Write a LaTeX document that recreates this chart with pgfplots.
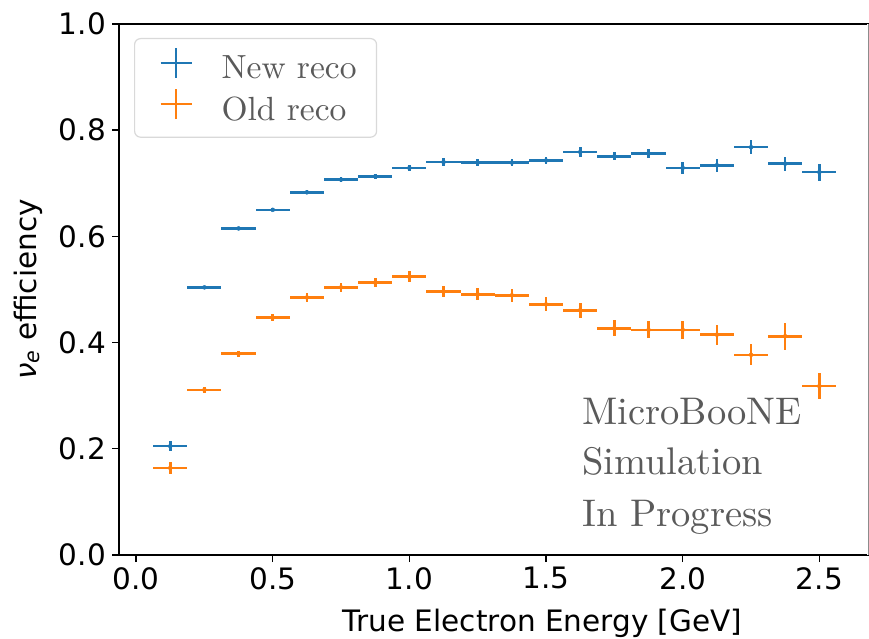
\documentclass[border=0pt]{standalone}
\usepackage{fontspec}
\usepackage{pgfplots}
\usepackage{pgfplotstable}
\pgfplotsset{compat=1.18}
\setsansfont{DejaVu Sans}
\newfontfamily\cmten{lmroman10-regular}[Extension=.otf]

\definecolor{mplblue}{HTML}{1F77B4}
\definecolor{mplorange}{HTML}{FF7F0E}
\definecolor{textgray}{HTML}{5A5A5A}
\definecolor{framegray}{HTML}{D9D9D9}

% bin centre, half bin width, efficiency, statistical error
\pgfplotstableread{
x      ex      y      ey
0.125  0.0625  0.205  0.010
0.250  0.0625  0.504  0.003
0.375  0.0625  0.615  0.003
0.500  0.0625  0.650  0.003
0.625  0.0625  0.683  0.004
0.750  0.0625  0.707  0.004
0.875  0.0625  0.713  0.005
1.000  0.0625  0.729  0.006
1.125  0.0625  0.740  0.007
1.250  0.0625  0.739  0.006
1.375  0.0625  0.739  0.007
1.500  0.0625  0.743  0.007
1.625  0.0625  0.759  0.009
1.750  0.0625  0.751  0.008
1.875  0.0625  0.756  0.009
2.000  0.0625  0.729  0.011
2.125  0.0625  0.734  0.012
2.250  0.0625  0.768  0.013
2.375  0.0625  0.737  0.013
2.500  0.0625  0.721  0.016
}\newreco

\pgfplotstableread{
x      ex      y      ey
0.125  0.0625  0.164  0.012
0.250  0.0625  0.311  0.006
0.375  0.0625  0.379  0.006
0.500  0.0625  0.447  0.007
0.625  0.0625  0.485  0.008
0.750  0.0625  0.504  0.008
0.875  0.0625  0.513  0.009
1.000  0.0625  0.524  0.010
1.125  0.0625  0.496  0.011
1.250  0.0625  0.491  0.011
1.375  0.0625  0.489  0.012
1.500  0.0625  0.472  0.013
1.625  0.0625  0.461  0.014
1.750  0.0625  0.427  0.015
1.875  0.0625  0.424  0.016
2.000  0.0625  0.424  0.017
2.125  0.0625  0.415  0.019
2.250  0.0625  0.377  0.020
2.375  0.0625  0.412  0.025
2.500  0.0625  0.318  0.024
}\oldreco

% legend handle: a cross like a single error bar, in a fixed-size cell
\newcommand{\crosshandle}[1]{%
  \path[draw=none, fill=none] (0pt,-20pt) rectangle (67pt,20pt);
  \draw[#1, line width=2.6pt, sharp corners] (29.5pt,-10pt) -- (29.5pt,20pt) (14pt,5pt) -- (45pt,5pt);}

\begin{document}
\begin{tikzpicture}
\begin{axis}[
  name=ax,
  scale only axis,
  width=749pt, height=531pt,
  xmin=-0.0625, xmax=2.678,
  ymin=0, ymax=1,
  xtick={0,0.5,1,1.5,2,2.5},
  ytick={0,0.2,0.4,0.6,0.8,1},
  tick pos=left,
  tick align=outside,
  major tick length=7pt,
  every tick/.style={black, line width=1.4pt},
  axis line style={line width=1.6pt, black},
  /pgf/number format/.cd, fixed, fixed zerofill, precision=1, assume math mode=true,
  /pgfplots/.cd,
  tick label style={font=\fontsize{29.5}{35}\sffamily, inner sep=0pt},
  yticklabel style={anchor=east, xshift=-6pt},
  xticklabel style={anchor=north, yshift=-5pt},
  xlabel={True Electron Energy [GeV]},
  ylabel={{\itshape ν}\textsubscript{\itshape e} efficiency},
  label style={font=\fontsize{29.5}{35}\sffamily},
  xlabel style={at={(axis description cs:0.5654,-0.144)}, anchor=base, inner sep=0pt},
  ylabel style={at={(axis description cs:-0.1215,0.5)}, anchor=center, inner sep=0pt},
  clip=false,
  legend cell align=left,
  legend style={at={(rel axis cs:0,1)}, anchor=north west, xshift=15pt, yshift=-14pt,
    draw=framegray, line width=1.2pt, rounded corners=6pt, fill=white,
    font=\cmten\fontsize{33.5}{40}\selectfont, text=textgray,
    inner xsep=12pt, inner ysep=8pt, row sep=0pt,
    nodes={inner xsep=8pt, inner ysep=0pt}},
]
\addplot[only marks, mark=none, mplblue,
  legend image code/.code={\crosshandle{mplblue}},
  error bars/.cd, x dir=both, x explicit, y dir=both, y explicit, error mark=none,
  error bar style={line width=2.6pt, mplblue}]
  table[x=x, y=y, x error=ex, y error=ey] {\newreco};
\addlegendentry{New reco}
\addplot[only marks, mark=none, mplorange,
  legend image code/.code={\crosshandle{mplorange}},
  error bars/.cd, x dir=both, x explicit, y dir=both, y explicit, error mark=none,
  error bar style={line width=2.6pt, mplorange}]
  table[x=x, y=y, x error=ex, y error=ey] {\oldreco};
\addlegendentry{Old reco}

\node[anchor=base west, inner sep=0pt, text=textgray, font=\cmten\fontsize{38.5}{45}\selectfont]
  at (axis cs:1.632,0.2461) {MicroBooNE};
\node[anchor=base west, inner sep=0pt, text=textgray, font=\cmten\fontsize{38.5}{45}\selectfont]
  at (axis cs:1.632,0.1507) {Simulation};
\node[anchor=base west, inner sep=0pt, text=textgray, font=\cmten\fontsize{38.5}{45}\selectfont]
  at (axis cs:1.632,0.0533) {In Progress};

% the right-hand frame edge is drawn lighter
\draw[white, line width=2pt] (rel axis cs:1,0) -- (rel axis cs:1,1);
\draw[black!45, line width=1pt] (rel axis cs:1,0) -- (rel axis cs:1,1);
\end{axis}
\pgfresetboundingbox
\useasboundingbox ([shift={(-119pt,-84pt)}]ax.south west) rectangle ([shift={(1pt,24pt)}]ax.north east);
\end{tikzpicture}
\end{document}
